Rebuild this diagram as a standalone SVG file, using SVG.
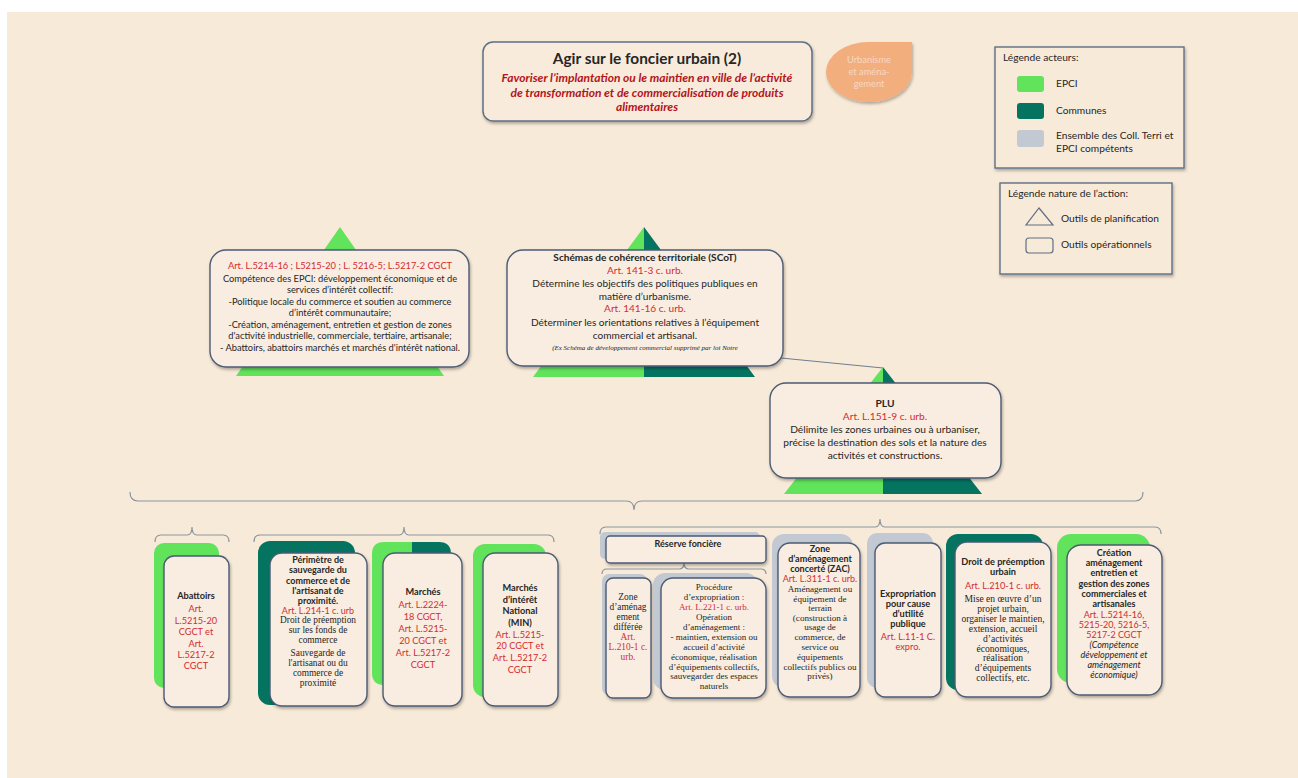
<svg xmlns="http://www.w3.org/2000/svg" width="1298" height="778" viewBox="0 0 1298 778">
<defs>
<style>
text{font-family:Lato,"Liberation Sans",sans-serif;fill:#262626;text-anchor:middle}
.b{font-weight:bold}
.r{fill:#D42B30}
.s{font-family:"Liberation Serif","Times New Roman",serif}
.i{font-style:italic}
.box{fill:#F8EDE0;stroke:#4B5B74;stroke-width:1.4}
.green{fill:#61E35B}
.teal{fill:#047461}
.gray{fill:#C3C9D2}
.br{fill:none;stroke:#8C959F;stroke-width:1.2}
.lg{text-anchor:start}
</style>
<filter id="sh" x="-10%" y="-10%" width="130%" height="130%">
<feDropShadow dx="1" dy="2" stdDeviation="1.5" flood-color="#000" flood-opacity="0.3"/>
</filter>
</defs>
<rect x="0" y="0" width="1298" height="778" fill="#FFFFFF"/>
<rect x="7" y="12" width="1291" height="766" fill="#F8EAD8"/>

<g id="connectors">
<path class="br" d="M130,492 Q130,501 138,501 L626,501 Q634,501 634,510 Q634,501 642,501 L1135,501 Q1143,501 1143,492"/>
<path class="br" d="M155,542 Q155,535 161,535 L187,535 Q192,535 192,527 Q192,535 197,535 L223,535 Q229,535 229,542"/>
<path class="br" d="M254,542 Q254,535 260,535 L399,535 Q404,535 404,527 Q404,535 409,535 L548,535 Q554,535 554,542"/>
<path class="br" d="M600,534 Q600,527 606,527 L875,527 Q880,527 880,519 Q880,527 885,527 L1155,527 Q1161,527 1161,534"/>
<path class="br" d="M602,574 Q602,569 607,569 L679,569 Q684,569 684,563 Q684,569 689,569 L761,569 Q766,569 766,574"/>
<line x1="781" y1="358" x2="883" y2="368" stroke="#6F7D8F" stroke-width="1"/>
</g>

<g id="title">
<rect x="483" y="42" width="329" height="79" rx="10" fill="#F8EBDC" stroke="#5F6F86" stroke-width="1.5" filter="url(#sh)"/>
<text x="647" y="64" class="b" font-size="15.4">Agir sur le foncier urbain (2)</text>
<text class="b i" font-size="12" style="fill:#B3141A"><tspan x="647" y="82">Favoriser l’implantation ou le maintien en ville de l’activité</tspan><tspan x="647" y="97">de transformation et de commercialisation de produits</tspan><tspan x="647" y="111">alimentaires</tspan></text>
</g>

<g id="tag-urbanisme">
<path d="M869,42 L912,42 L912,72 A43,30 0 1 1 869,42 Z" fill="#F3AE7E" filter="url(#sh)"/>
<text font-size="9.3" style="fill:#F8D8C2"><tspan x="869" y="63">Urbanisme</tspan><tspan x="869" y="75">et aména-</tspan><tspan x="869" y="87">gement</tspan></text>
</g>

<g id="legend-acteurs">
<rect x="995" y="47" width="189" height="121" fill="#F8EAD8" stroke="#5F6F86" stroke-width="1.4" filter="url(#sh)"/>
<text class="lg" x="1003" y="61" font-size="10.2">Légende acteurs:</text>
<rect x="1017" y="76" width="27" height="16" rx="3" class="green"/>
<text class="lg" x="1056" y="87" font-size="10.2">EPCI</text>
<rect x="1017" y="103" width="27" height="16" rx="3" class="teal"/>
<text class="lg" x="1056" y="114" font-size="10.2">Communes</text>
<rect x="1017" y="130" width="27" height="17" rx="3" class="gray"/>
<text class="lg" x="1056" y="139" font-size="10.2">Ensemble des Coll. Terri et</text>
<text class="lg" x="1056" y="152" font-size="10.2">EPCI compétents</text>
</g>

<g id="legend-nature">
<rect x="1000" y="183" width="172" height="91" fill="#F8EAD8" stroke="#5F6F86" stroke-width="1.4" filter="url(#sh)"/>
<text class="lg" x="1008" y="197" font-size="10.2">Légende nature de l’action:</text>
<polygon points="1039,208 1053,225 1026,225" fill="#F8EAD8" stroke="#5F6F86" stroke-width="1.2"/>
<text class="lg" x="1061" y="222" font-size="10.2">Outils de planification</text>
<rect x="1026" y="238" width="27" height="15" rx="3" fill="#F8EAD8" stroke="#5F6F86" stroke-width="1.2"/>
<text class="lg" x="1061" y="248" font-size="10.2">Outils opérationnels</text>
</g>

<g id="node-epci">
<polygon class="green" points="340,227 444,376 236,376"/>
<rect class="box" x="210" y="250" width="259" height="117" rx="16" filter="url(#sh)"/>
<text font-size="9.3"><tspan class="r" x="340" y="269">Art. L.5214-16 ; L5215-20 ; L. 5216-5; L.5217-2 CGCT</tspan><tspan x="340" y="282">Compétence des EPCI: développement économique et de</tspan><tspan x="340" y="293">services d’intérêt collectif:</tspan><tspan x="340" y="305">-Politique locale du commerce et soutien au commerce</tspan><tspan x="340" y="316">d’intérêt communautaire;</tspan><tspan x="340" y="328">-Création, aménagement, entretien et gestion de zones</tspan><tspan x="340" y="339">d'activité industrielle, commerciale, tertiaire, artisanale;</tspan><tspan x="340" y="351">- Abattoirs, abattoirs marchés et marchés d'intérêt national.</tspan></text>
</g>

<g id="node-scot">
<polygon class="green" points="644,227 644,377 533,377"/>
<polygon class="teal" points="644,227 755,377 644,377"/>
<rect class="box" x="507" y="250" width="276" height="116" rx="16" filter="url(#sh)"/>
<text font-size="10.1"><tspan class="b" x="645" y="261">Schémas de cohérence territoriale (SCoT)</tspan><tspan class="r" x="645" y="274">Art. 141-3 c. urb.</tspan><tspan x="645" y="287">Détermine les objectifs des politiques publiques en</tspan><tspan x="645" y="300">matière d’urbanisme.</tspan><tspan class="r" x="645" y="312">Art. 141-16 c. urb.</tspan><tspan x="645" y="326">Déterminer les orientations relatives à l’équipement</tspan><tspan x="645" y="339">commercial et artisanal.</tspan></text>
<text class="s i" x="645" y="350" font-size="7">(Ex Schéma de développement commercial supprimé par loi Notre</text>
</g>

<g id="node-plu">
<polygon class="green" points="883,367 883,494 784,494"/>
<polygon class="teal" points="883,367 982,494 883,494"/>
<rect class="box" x="770" y="383" width="231" height="95" rx="16" filter="url(#sh)"/>
<text font-size="10.2"><tspan class="b" x="885" y="407">PLU</tspan><tspan class="r" x="885" y="420">Art. L.151-9 c. urb.</tspan><tspan x="885" y="433">Délimite les zones urbaines ou à urbaniser,</tspan><tspan x="885" y="446">précise la destination des sols et la nature des</tspan><tspan x="885" y="459">activités et constructions.</tspan></text>
</g>

<g id="node-abattoirs">
<rect class="green" x="154" y="543" width="65" height="145" rx="10"/>
<rect class="box" x="164" y="556" width="65" height="151" rx="10" filter="url(#sh)"/>
<text font-size="9.2"><tspan class="b" x="196" y="599">Abattoirs</tspan><tspan class="r" x="196" y="612">Art.</tspan><tspan class="r" x="196" y="624">L.5215-20</tspan><tspan class="r" x="196" y="635">CGCT et</tspan><tspan class="r" x="196" y="647">Art.</tspan><tspan class="r" x="196" y="658">L.5217-2</tspan><tspan class="r" x="196" y="669">CGCT</tspan></text>
</g>

<g id="node-perimetre">
<rect class="teal" x="258" y="541" width="97" height="164" rx="12"/>
<rect class="box" x="270" y="553" width="97" height="153" rx="12" filter="url(#sh)"/>
<text font-size="9"><tspan class="b" x="318" y="563">Périmètre de</tspan><tspan class="b" x="318" y="573">sauvegarde du</tspan><tspan class="b" x="318" y="584">commerce et de</tspan><tspan class="b" x="318" y="594">l'artisanat de</tspan><tspan class="b" x="318" y="604">proximité.</tspan><tspan class="r" x="318" y="614">Art. L.214-1 c. urb</tspan></text>
<text class="s" font-size="9.4"><tspan x="318" y="623">Droit de préemption</tspan><tspan x="318" y="633">sur les fonds de</tspan><tspan x="318" y="643">commerce</tspan><tspan x="318" y="656">Sauvegarde de</tspan><tspan x="318" y="666">l'artisanat ou du</tspan><tspan x="318" y="676">commerce de</tspan><tspan x="318" y="686">proximité</tspan></text>
</g>

<g id="node-marches">
<path class="green" d="M412,542 L384,542 Q372,542 372,554 L372,673 Q372,685 384,685 L412,685 Z"/>
<path class="teal" d="M412,542 L439,542 Q451,542 451,554 L451,673 Q451,685 439,685 L412,685 Z"/>
<rect class="box" x="383" y="553" width="79" height="153" rx="12" filter="url(#sh)"/>
<text font-size="9.2"><tspan class="b" x="423" y="595">Marchés</tspan><tspan class="r" x="423" y="608">Art. L.2224-</tspan><tspan class="r" x="423" y="620">18 CGCT,</tspan><tspan class="r" x="423" y="632">Art. L.5215-</tspan><tspan class="r" x="423" y="644">20 CGCT et</tspan><tspan class="r" x="423" y="656">Art. L.5217-2</tspan><tspan class="r" x="423" y="668">CGCT</tspan></text>
</g>

<g id="node-min">
<rect class="green" x="473" y="544" width="73" height="153" rx="12"/>
<rect class="box" x="483" y="553" width="75" height="153" rx="12" filter="url(#sh)"/>
<text font-size="9.2"><tspan class="b" x="520" y="591">Marchés</tspan><tspan class="b" x="520" y="603">d’intérêt</tspan><tspan class="b" x="520" y="614">National</tspan><tspan class="b" x="520" y="626">(MIN)</tspan><tspan class="r" x="520" y="638">Art. L.5215-</tspan><tspan class="r" x="520" y="649">20 CGCT et</tspan><tspan class="r" x="520" y="661">Art. L.5217-2</tspan><tspan class="r" x="520" y="673">CGCT</tspan></text>
</g>

<g id="node-reserve">
<rect class="gray" x="600" y="532" width="160" height="27" rx="5"/>
<rect class="box" x="606" y="536" width="160" height="27" rx="4" filter="url(#sh)"/>
<text class="b" x="688" y="547" font-size="9">Réserve foncière</text>
</g>

<g id="node-zad">
<rect class="gray" x="602" y="574" width="45" height="121" rx="7"/>
<rect class="box" x="606" y="578" width="45" height="120" rx="7" filter="url(#sh)"/>
<text class="s" font-size="9.4"><tspan x="628" y="600">Zone</tspan><tspan x="628" y="610">d’aménag</tspan><tspan x="628" y="620">ement</tspan><tspan x="628" y="630">différée</tspan><tspan class="r" x="628" y="640">Art.</tspan><tspan class="r" x="628" y="650">L.210-1 c.</tspan><tspan class="r" x="628" y="660">urb.</tspan></text>
</g>

<g id="node-expropriation-procedure">
<rect class="gray" x="653" y="573" width="105" height="117" rx="12"/>
<rect class="box" x="661" y="578" width="105" height="120" rx="12" filter="url(#sh)"/>
<text class="s" font-size="9"><tspan x="714" y="590">Procédure</tspan><tspan x="714" y="600">d’expropriation :</tspan><tspan class="r" x="714" y="610">Art. L.221-1 c. urb.</tspan><tspan x="714" y="620">Opération</tspan><tspan x="714" y="630">d’aménagement :</tspan><tspan x="714" y="640">- maintien, extension ou</tspan><tspan x="714" y="650">accueil d’activité</tspan><tspan x="714" y="660">économique, réalisation</tspan><tspan x="714" y="670">d’équipements collectifs,</tspan><tspan x="714" y="679">sauvegarder des espaces</tspan><tspan x="714" y="689">naturels</tspan></text>
</g>

<g id="node-zac">
<rect class="gray" x="772" y="534" width="81" height="154" rx="12"/>
<rect class="box" x="778" y="543" width="82" height="154" rx="12" filter="url(#sh)"/>
<text font-size="9"><tspan class="b" x="820" y="552">Zone</tspan><tspan class="b" x="820" y="562">d’aménagement</tspan><tspan class="b" x="820" y="572">concerté (ZAC)</tspan><tspan class="r" x="820" y="582">Art. L.311-1 c. urb.</tspan></text>
<text class="s" font-size="9.1"><tspan x="820" y="592">Aménagement ou</tspan><tspan x="820" y="602">équipement de</tspan><tspan x="820" y="611">terrain</tspan><tspan x="820" y="621">(construction à</tspan><tspan x="820" y="630">usage de</tspan><tspan x="820" y="640">commerce, de</tspan><tspan x="820" y="650">service ou</tspan><tspan x="820" y="660">équipements</tspan><tspan x="820" y="670">collectifs publics ou</tspan><tspan x="820" y="679">privés)</tspan></text>
</g>

<g id="node-expropriation">
<rect class="gray" x="867" y="533" width="66" height="155" rx="10"/>
<rect class="box" x="875" y="543" width="66" height="154" rx="10" filter="url(#sh)"/>
<text font-size="9.2"><tspan class="b" x="908" y="597">Expropriation</tspan><tspan class="b" x="908" y="607">pour cause</tspan><tspan class="b" x="908" y="617">d’utilité</tspan><tspan class="b" x="908" y="627">publique</tspan><tspan class="r" x="908" y="640">Art. L.11-1 C.</tspan><tspan class="r" x="908" y="650">expro.</tspan></text>
</g>

<g id="node-dpu">
<rect class="teal" x="946" y="534" width="97" height="156" rx="12"/>
<rect class="box" x="955" y="542" width="96" height="155" rx="12" filter="url(#sh)"/>
<text font-size="9.2"><tspan class="b" x="1003" y="565">Droit de préemption</tspan><tspan class="b" x="1003" y="575">urbain</tspan><tspan class="r" x="1003" y="589">Art. L.210-1 c. urb.</tspan></text>
<text class="s" font-size="9.6"><tspan x="1003" y="602">Mise en œuvre d’un</tspan><tspan x="1003" y="612">projet urbain,</tspan><tspan x="1003" y="622">organiser le maintien,</tspan><tspan x="1003" y="632">extension, accueil</tspan><tspan x="1003" y="642">d’activités</tspan><tspan x="1003" y="652">économiques,</tspan><tspan x="1003" y="661">réalisation</tspan><tspan x="1003" y="671">d’équipements</tspan><tspan x="1003" y="681">collectifs, etc.</tspan></text>
</g>

<g id="node-creation">
<rect class="green" x="1057" y="534" width="93" height="149" rx="14"/>
<rect class="box" x="1067" y="545" width="95" height="150" rx="14" filter="url(#sh)"/>
<text font-size="9"><tspan class="b" x="1114" y="556">Création</tspan><tspan class="b" x="1114" y="566">aménagement</tspan><tspan class="b" x="1114" y="576">entretien et</tspan><tspan class="b" x="1114" y="587">gestion des zones</tspan><tspan class="b" x="1114" y="597">commerciales et</tspan><tspan class="b" x="1114" y="607">artisanales</tspan><tspan class="r" x="1114" y="618">Art. L.5214-16,</tspan><tspan class="r" x="1114" y="628">5215-20, 5216-5,</tspan><tspan class="r" x="1114" y="638">5217-2 CGCT</tspan><tspan class="i" x="1114" y="648">(Compétence</tspan><tspan class="i" x="1114" y="658">développement et</tspan><tspan class="i" x="1114" y="668">aménagement</tspan><tspan class="i" x="1114" y="678">économique)</tspan></text>
</g>
</svg>
